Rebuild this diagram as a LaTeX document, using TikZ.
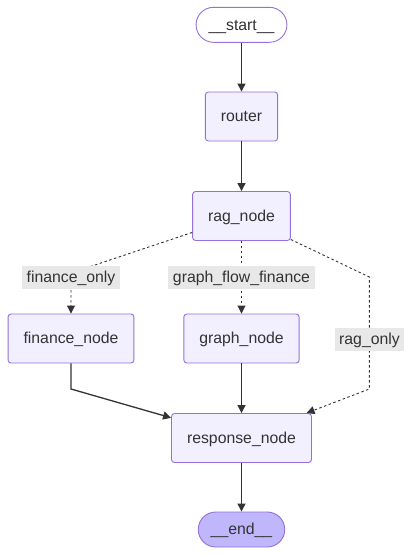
\documentclass[tikz,border=0pt]{standalone}
\usepackage{fontspec}
\setmainfont{Liberation Sans}
\usepackage{xcolor}
\usepackage{tikz}
\usetikzlibrary{arrows.meta}
\definecolor{ink}{HTML}{333333}
\definecolor{rim}{HTML}{9370DB}
\definecolor{pale}{HTML}{F2F0FF}
\definecolor{lilac}{HTML}{BFB6FC}
\definecolor{chip}{HTML}{E8E8E8}
\tikzset{
  box/.style={draw=rim, fill=pale, line width=0.9pt, rounded corners=3pt, minimum height=49pt,
    inner xsep=15.5pt, inner ysep=0pt, text=ink, text height=14.3pt, text depth=3.35pt,
    font=\fontsize{15.8}{18}\selectfont},
  startbox/.style={box, fill=white, minimum height=35pt, rounded corners=17.5pt, inner xsep=12.5pt},
  endbox/.style={startbox, fill=lilac},
  chiplab/.style={fill=chip, text=ink, inner xsep=4.5pt, inner ysep=0pt, minimum height=23pt,
    text height=14.3pt, text depth=3.35pt, font=\fontsize{15.8}{18}\selectfont},
  flow/.style={draw=ink, line width=1.3pt, -{Triangle[length=8pt,width=8pt]}},
  cond/.style={draw=ink, line width=0.9pt, dash pattern=on 2.5pt off 2.5pt, -{Triangle[length=8pt,width=8pt]}},
}
\begin{document}
\begin{tikzpicture}[x=1pt,y=-1pt]
  \useasboundingbox[fill=white] (0,0) rectangle (413,555);
  % nodes
  \node[startbox] (start) at (241.5,24.8) {\_\_start\_\_};
  \node[box] (router) at (241.5,116.5) {router};
  \node[box] (rag) at (241.5,216) {rag\_node};
  \node[box] (finance) at (71,338.5) {finance\_node};
  \node[box] (graph) at (241.5,338.5) {graph\_node};
  \node[box] (response) at (241.5,438) {response\_node};
  \node[endbox] (end) at (241.5,529.5) {\_\_end\_\_};
  % bends
  \coordinate (finA) at (71,273);
  \coordinate (finB) at (71,389);
  \coordinate (ragA) at (369.3,277);
  \coordinate (ragB) at (369.3,389);
  % edges
  \draw[flow] (start) -- (router);
  \draw[flow] (router) -- (rag);
  \draw[cond] (rag) -- (finA) -- (finance);
  \draw[cond] (rag) -- (graph);
  \draw[cond] (rag) -- (ragA) -- (ragB) -- (response);
  \draw[flow] (finance) -- (finB) -- (response);
  \draw[flow] (graph) -- (response);
  \draw[flow] (response) -- (end);
  % labels
  \node[chiplab] (finonly) at (71,277.5) {finance\_only};
  \node[chiplab] (gff) at (241.5,277.5) {graph\_flow\_finance};
  \node[chiplab] (ragonly) at (369.5,339) {rag\_only};
\end{tikzpicture}
\end{document}
